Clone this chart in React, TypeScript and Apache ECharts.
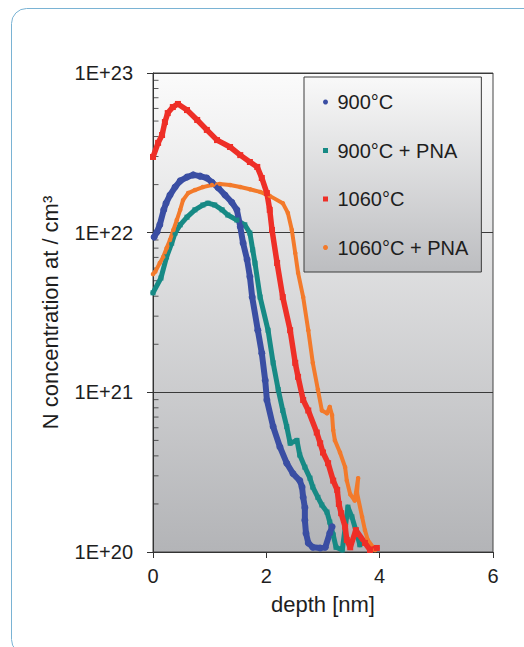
import React, { useEffect, useRef } from 'react';
import * as echarts from 'echarts';

// ---- axis / tick data ----
const xTicks = [0, 2, 4, 6];
const yTickLabels = ['1E+20', '1E+21', '1E+22', '1E+23'];
const minorMultipliers = [2, 3, 4, 5, 6, 7, 8, 9];
const minorDecades = [1e20, 1e21, 1e22];

const seriesNames = ['900°C', '900°C + PNA', '1060°C', '1060°C + PNA'];

// ---- 900°C ----
const depth900 = [0.02, 0.07, 0.12, 0.19, 0.23, 0.30, 0.39, 0.48, 0.60, 0.71, 0.83, 0.95, 1.04, 1.15, 1.27, 1.39, 1.48, 1.54, 1.59, 1.66, 1.71, 1.75, 1.85, 1.92, 1.98, 2.01, 2.12, 2.24, 2.36, 2.47, 2.59, 2.63, 2.65, 2.68, 2.68, 2.70, 2.74, 2.82, 2.95, 3.04, 3.12, 3.16];
const conc900 = [9.4e21, 1.01e22, 1.12e22, 1.39e22, 1.53e22, 1.72e22, 1.93e22, 2.11e22, 2.23e22, 2.30e22, 2.26e22, 2.20e22, 2.07e22, 1.91e22, 1.72e22, 1.55e22, 1.39e22, 1.09e22, 8.6e21, 6.8e21, 5.3e21, 3.95e21, 2.45e21, 1.76e21, 1.19e21, 8.95e20, 6.1e20, 4.55e20, 3.6e20, 3.1e20, 2.8e20, 2.55e20, 2.2e20, 1.9e20, 1.58e20, 1.31e20, 1.14e20, 1.07e20, 1.06e20, 1.07e20, 1.31e20, 1.44e20];

// ---- 900°C + PNA ----
const depth900P = [0, 0.14, 0.24, 0.33, 0.39, 0.48, 0.60, 0.74, 0.88, 0.97, 1.09, 1.22, 1.32, 1.48, 1.62, 1.71, 1.76, 1.80, 1.89, 2.03, 2.12, 2.21, 2.29, 2.36, 2.42, 2.54, 2.59, 2.68, 2.77, 2.82, 2.91, 2.98, 3.07, 3.12, 3.18, 3.23, 3.34, 3.44, 3.51, 3.58, 3.65];
const conc900P = [4.2e21, 5.2e21, 7.05e21, 8.6e21, 9.95e21, 1.12e22, 1.25e22, 1.39e22, 1.49e22, 1.53e22, 1.49e22, 1.39e22, 1.29e22, 1.2e22, 1.12e22, 9.95e21, 7.8e21, 6.45e21, 3.95e21, 2.45e21, 1.53e21, 1.04e21, 7.7e20, 6.1e20, 4.8e20, 5.0e20, 4.05e20, 3.4e20, 2.9e20, 2.55e20, 2.2e20, 1.97e20, 1.78e20, 1.54e20, 1.28e20, 1.07e20, 1.03e20, 1.91e20, 1.66e20, 1.37e20, 1.11e20];

// ---- 1060°C ----
const depth1060 = [0, 0.09, 0.16, 0.21, 0.26, 0.35, 0.44, 0.60, 0.78, 0.95, 1.13, 1.36, 1.54, 1.71, 1.84, 1.92, 2.01, 2.06, 2.10, 2.19, 2.29, 2.42, 2.51, 2.56, 2.65, 2.74, 2.89, 2.95, 3.0, 3.09, 3.18, 3.25, 3.28, 3.32, 3.39, 3.42, 3.48, 3.58, 3.74, 3.83, 3.95];
const conc1060 = [2.98e22, 3.65e22, 4.09e22, 4.93e22, 5.61e22, 6.12e22, 6.4e22, 5.86e22, 5.08e22, 4.4e22, 3.8e22, 3.44e22, 3.06e22, 2.77e22, 2.58e22, 2.2e22, 1.77e22, 1.39e22, 1.04e22, 6.46e21, 3.95e21, 2.45e21, 1.53e21, 1.25e21, 8.95e20, 7.7e20, 5.6e20, 4.8e20, 4.2e20, 3.6e20, 2.8e20, 2.45e20, 2.0e20, 1.75e20, 1.44e20, 1.19e20, 1.07e20, 1.37e20, 1.14e20, 1.03e20, 1.06e20];

// ---- 1060°C + PNA ----
const depth1060P = [0, 0.04, 0.12, 0.18, 0.24, 0.30, 0.36, 0.42, 0.48, 0.53, 0.62, 0.74, 0.88, 1.04, 1.18, 1.36, 1.54, 1.71, 1.89, 2.06, 2.29, 2.38, 2.45, 2.51, 2.56, 2.65, 2.74, 2.82, 2.91, 2.98, 3.07, 3.12, 3.16, 3.18, 3.21, 3.30, 3.39, 3.42, 3.48, 3.56, 3.62, 3.60, 3.69, 3.74, 3.79, 3.92];
const conc1060P = [5.5e21, 5.7e21, 6.45e21, 7.05e21, 8.0e21, 9.0e21, 1.04e22, 1.2e22, 1.39e22, 1.6e22, 1.77e22, 1.85e22, 1.93e22, 1.99e22, 2.02e22, 1.99e22, 1.93e22, 1.87e22, 1.8e22, 1.7e22, 1.53e22, 1.33e22, 1.04e22, 7.45e21, 5.6e21, 3.95e21, 2.45e21, 1.53e21, 1.04e21, 7.7e20, 7.4e20, 8.1e20, 7.2e20, 5.8e20, 5.0e20, 4.2e20, 3.4e20, 2.8e20, 2.3e20, 2.1e20, 2.9e20, 2.35e20, 1.66e20, 1.37e20, 1.19e20, 1.03e20];

const FONT = 'Liberation Sans, Arial, Helvetica, sans-serif';
const TEXT = '#1e1e1e';

const zip = (xs: number[], ys: number[]) => xs.map((x, i) => [x, ys[i]]);

export default function App() {
  const ref = useRef<HTMLDivElement>(null);

  useEffect(() => {
    if (!ref.current) return;
    const chart = echarts.init(ref.current, undefined, { renderer: 'svg' });

    const minorData: number[][] = [];
    minorDecades.forEach((d) => minorMultipliers.forEach((m) => minorData.push([0, m * d])));

    const mk = (name: string, xs: number[], ys: number[], color: string, symbol: string, size: number, width: number) => ({
      name,
      type: 'line',
      data: zip(xs, ys),
      symbol,
      symbolSize: size,
      showSymbol: true,
      itemStyle: { color },
      lineStyle: { color, width, cap: 'round', join: 'round' },
      clip: true,
      z: 3,
    });

    const option: any = {
      animation: false,
      graphic: [
        {
          type: 'rect',
          z: -10,
          silent: true,
          shape: { x: 11.5, y: 8.5, width: 560, height: 646, r: 15 },
          style: { fill: 'none', stroke: '#7ab3d4', lineWidth: 1 },
        },
      ],
      grid: {
        left: 153,
        right: 31,
        top: 73,
        bottom: 95,
        show: true,
        borderColor: '#444',
        borderWidth: 1,
        backgroundColor: new echarts.graphic.LinearGradient(0, 0, 0, 1, [
          { offset: 0, color: '#fbfbfb' },
          { offset: 1, color: '#b3b4b7' },
        ]),
      },
      legend: {
        data: [
          { name: seriesNames[0], icon: 'circle' },
          { name: seriesNames[1], icon: 'path://M0 0H10V10H0Z' },
          { name: seriesNames[2], icon: 'path://M0 0H10V10H0Z' },
          { name: seriesNames[3], icon: 'circle' },
        ],
        orient: 'vertical',
        left: 304,
        top: 77,
        itemGap: 28.5,
        itemWidth: 14,
        itemHeight: 5,
        padding: [15, 13, 14.5, 19],
        selectedMode: false,
        borderColor: '#3c3c3c',
        borderWidth: 1,
        backgroundColor: new echarts.graphic.LinearGradient(0, 0, 0, 1, [
          { offset: 0, color: '#f9f9f9' },
          { offset: 1, color: '#bcbdc0' },
        ]),
        textStyle: { fontFamily: FONT, fontSize: 20, lineHeight: 20, color: TEXT },
        z: 10,
      },
      xAxis: {
        type: 'value',
        min: xTicks[0],
        max: xTicks[xTicks.length - 1],
        interval: xTicks[1] - xTicks[0],
        name: 'depth [nm]',
        nameLocation: 'middle',
        nameGap: 41,
        nameTextStyle: { fontFamily: FONT, fontSize: 22, color: TEXT },
        axisLine: { show: true, lineStyle: { color: '#333', width: 1 } },
        axisTick: { show: true, inside: false, length: 6, lineStyle: { color: '#333' } },
        axisLabel: { fontFamily: FONT, fontSize: 20, color: TEXT, margin: 14 },
        splitLine: { show: false },
      },
      yAxis: {
        type: 'log',
        logBase: 10,
        min: 1e20,
        max: 1e23,
        name: 'N concentration at / cm³',
        nameLocation: 'middle',
        nameGap: 92,
        nameTextStyle: { fontFamily: FONT, fontSize: 22, color: TEXT },
        axisLine: { show: true, lineStyle: { color: '#333', width: 1 } },
        axisTick: { show: true, inside: false, length: 6, lineStyle: { color: '#333' } },
        axisLabel: {
          fontFamily: FONT,
          fontSize: 20,
          color: TEXT,
          margin: 20,
          formatter: (v: number) => yTickLabels[Math.round(Math.log10(v)) - 20] ?? '',
        },
        splitLine: { show: true, lineStyle: { color: '#3a3a3a', width: 1 } },
      },
      series: [
        {
          name: 'minor',
          type: 'scatter',
          data: minorData,
          symbol: 'rect',
          symbolSize: [5, 1],
          symbolOffset: [3, 0],
          itemStyle: { color: '#333' },
          silent: true,
          clip: false,
          z: 2,
        },
        mk(seriesNames[1], depth900P, conc900P, '#178a85', 'rect', 5, 5),
        mk(seriesNames[0], depth900, conc900, '#3a4ea3', 'circle', 7, 6),
        mk(seriesNames[3], depth1060P, conc1060P, '#f37a2b', 'circle', 4.5, 4),
        mk(seriesNames[2], depth1060, conc1060, '#ee2f27', 'rect', 6, 5.5),
      ],
    };

    chart.setOption(option);
    return () => chart.dispose();
  }, []);

  return (
    <div
      ref={ref}
      style={{ position: 'absolute', left: 0, top: 0, width: 524, height: 647 }}
    />
  );
}
